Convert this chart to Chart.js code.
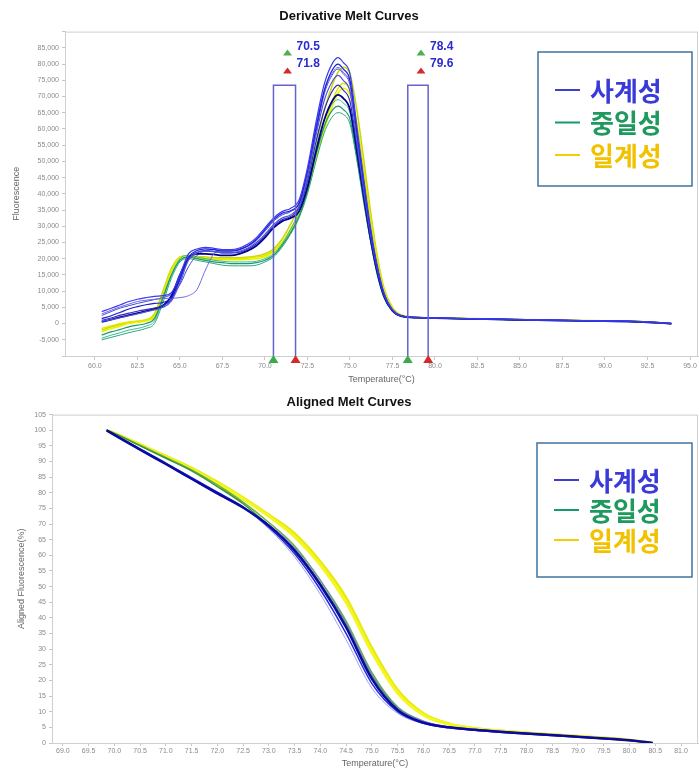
<!DOCTYPE html>
<html>
<head>
<meta charset="utf-8">
<script src="https://cdn.jsdelivr.net/npm/chart.js@4.4.1/dist/chart.umd.min.js"></script>
<style>
  body { margin: 0; background: #fff; }
  #wrapTop { position: absolute; left: 0; top: 0; width: 699px; height: 390px; }
  #wrapBottom { position: absolute; left: 0; top: 390px; width: 699px; height: 380px; }
</style>
</head>
<body>
<div id="wrapTop"><canvas id="chartDerivative"></canvas></div>
<div id="wrapBottom"><canvas id="chartAligned"></canvas></div>
<script>
// groups (legend)
const groupNames = ['사계성', '중일성', '일계성'];
const groupLineColors = ['#3f3fc8', '#149b6c', '#f2d000'];
const groupTextColors = ['#3a3ad8', '#1f9a5e', '#f2c200'];

// ---- Derivative melt curves ----
const derivTicks = [60.0, 62.5, 65.0, 67.5, 70.0, 72.5, 75.0, 77.5, 80.0, 82.5, 85.0, 87.5, 90.0, 92.5, 95.0];
const derivTemps = [
  60.4, 61.0, 61.5, 62.0, 62.5, 63.0, 63.5, 64.0, 64.5, 65.0,
  65.5, 66.0, 66.5, 67.0, 67.5, 68.0, 68.5, 69.0, 69.5, 70.0,
  70.5, 71.0, 71.5, 72.0, 72.5, 73.0, 73.5, 74.0, 74.3, 74.6,
  75.0, 75.4, 75.8, 76.2, 76.6, 77.0, 77.5, 78.0, 79.0, 80.0,
  82.0, 84.0, 86.0, 88.0, 90.0, 92.0, 93.9
];
const derivBlue1 = [
  3700, 4800, 5800, 6800, 7500, 8000, 8400, 8600, 9500, 15000,
  21500, 23000, 23500, 23200, 22800, 22800, 23300, 24500, 26500, 29500,
  32500, 34500, 35500, 38000, 48000, 62000, 74000, 80500, 82000, 80500,
  77000, 61000, 45000, 30000, 18000, 9500, 4300, 2500, 1900, 1750,
  1550, 1350, 1150, 1000, 850, 650, 50
];
const derivBlue2 = [
  1500, 2500, 3500, 4500, 5200, 5800, 6200, 6500, 8000, 14000,
  20500, 22500, 23000, 22800, 22300, 22300, 22800, 24000, 26000, 29000,
  32000, 34000, 34800, 37000, 47000, 60000, 72000, 78500, 80000, 78500,
  75000, 59500, 44000, 29000, 17500, 9200, 4200, 2400, 1850, 1700,
  1500, 1300, 1100, 950, 800, 600, 0
];
const derivBlue3 = [
  600, 1200, 1800, 2400, 3000, 3600, 4200, 5000, 7000, 12500,
  19500, 21800, 22300, 22200, 21800, 21800, 22300, 23300, 25000, 27500,
  30500, 32500, 33500, 36000, 45000, 58000, 69000, 75000, 76500, 75000,
  71500, 57000, 42000, 28000, 17000, 9000, 4100, 2400, 1850, 1700,
  1500, 1300, 1100, 950, 800, 600, 0
];
const derivBlue4 = [
  1000, 1800, 2600, 3200, 3800, 4300, 4800, 5500, 7500, 13500,
  20000, 22000, 22500, 22200, 21800, 21800, 22000, 23000, 24500, 27000,
  30000, 32000, 33000, 35500, 44000, 56000, 66000, 72000, 73500, 72000,
  68500, 55000, 40500, 27000, 16500, 8700, 4000, 2350, 1800, 1650,
  1450, 1250, 1050, 900, 750, 550, 0
];
const derivBlue5 = [
  3000, 4200, 5200, 6000, 6800, 7200, 7500, 7700, 7800, 8000,
  8600, 10500, 16500, 21500, 22500, 22500, 22800, 23800, 25500, 28500,
  31500, 33500, 34500, 37000, 47000, 61000, 72000, 77500, 79000, 77500,
  74000, 59000, 43500, 29000, 17500, 9200, 4200, 2400, 1850, 1700,
  1500, 1300, 1100, 950, 800, 600, 0
];
const derivBlue6 = [
  500, 1300, 2000, 2600, 3200, 3800, 4500, 5500, 8500, 15000,
  20000, 21500, 21500, 21300, 21000, 21000, 21500, 22500, 24000, 26500,
  29500, 31500, 32500, 34500, 42000, 53000, 63000, 69000, 70500, 69500,
  66000, 53500, 39500, 26500, 16000, 8500, 3900, 2300, 1800, 1650,
  1450, 1250, 1050, 900, 750, 550, 0
];
const derivBlue7 = [
  2500, 3800, 4800, 5500, 6200, 6800, 7400, 8000, 9000, 12000,
  17500, 21000, 22500, 22800, 22500, 22500, 23000, 24000, 25800, 28500,
  31500, 33500, 34500, 37000, 46000, 59000, 71000, 77000, 78500, 77000,
  73500, 58500, 43000, 28500, 17200, 9000, 4100, 2400, 1850, 1700,
  1500, 1300, 1100, 950, 800, 600, 0
];
const derivGreen1 = [
  -3500, -2500, -1800, -1000, -500, 0, 1500, 8000, 15000, 19500,
  20500, 20000, 19500, 19000, 18800, 18500, 18500, 18500, 18800, 19500,
  21000, 24000, 28000, 33000, 41000, 52000, 61000, 66000, 67000, 66000,
  63000, 51500, 38500, 26000, 15500, 8200, 3900, 2300, 1800, 1650,
  1450, 1250, 1050, 900, 750, 550, 0
];
const derivGreen2 = [
  -5000, -4200, -3500, -2800, -2200, -1500, 0, 6500, 14000, 19000,
  20000, 19500, 19000, 18500, 18000, 17800, 17800, 17800, 18000, 19000,
  20500, 23500, 27500, 32500, 40000, 50000, 59000, 64000, 65000, 64500,
  61500, 50500, 37500, 25500, 15000, 8000, 3800, 2300, 1800, 1650,
  1450, 1250, 1050, 900, 750, 550, 0
];
const derivGreen3 = [
  -4500, -3500, -2800, -2000, -1500, -800, 800, 7500, 15000, 20000,
  21000, 20500, 20000, 19500, 19200, 19000, 19000, 19000, 19200, 20000,
  21500, 24500, 29000, 34500, 43000, 54000, 63000, 68000, 69000, 68000,
  65000, 53000, 39500, 26500, 15800, 8300, 3900, 2300, 1800, 1650,
  1450, 1250, 1050, 900, 750, 550, 0
];
const derivYellow1 = [
  -1500, -700, 0, 500, 800, 1200, 2500, 9000, 16500, 20500,
  21000, 20500, 20200, 20000, 20000, 20000, 20000, 20200, 20500, 21000,
  22500, 25000, 29000, 34000, 41000, 51000, 61000, 69000, 72500, 74000,
  72000, 62000, 48000, 33000, 20000, 10500, 4700, 2600, 1900, 1700,
  1500, 1300, 1100, 950, 800, 600, 0
];
const derivYellow2 = [
  -2500, -1500, -800, 0, 400, 800, 2000, 8500, 16000, 20000,
  20500, 20000, 19800, 19700, 19700, 19700, 19700, 19800, 20000, 20500,
  22000, 24500, 28500, 33500, 40500, 50500, 60000, 67500, 71000, 72500,
  70500, 61000, 47000, 32000, 19500, 10200, 4600, 2600, 1900, 1700,
  1500, 1300, 1100, 950, 800, 600, 0
];
const derivYellow3 = [
  -2000, -1000, -300, 300, 600, 1000, 3000, 10000, 17000, 20500,
  21000, 20700, 20500, 20300, 20300, 20300, 20300, 20500, 20800, 21500,
  23000, 26000, 30500, 36000, 44000, 55000, 66000, 74000, 77500, 79000,
  77000, 66000, 51000, 35000, 21000, 11000, 5000, 2700, 1950, 1750,
  1550, 1350, 1150, 1000, 850, 650, 0
];
// melt regions (start / end temperature of each bracket)
const regionStarts = [70.5, 78.4];
const regionEnds = [71.8, 79.6];
const regionTop = 73500;

// ---- Aligned melt curves ----
const alignTicks = [69.0, 69.5, 70.0, 70.5, 71.0, 71.5, 72.0, 72.5, 73.0, 73.5, 74.0, 74.5, 75.0, 75.5, 76.0, 76.5, 77.0, 77.5, 78.0, 78.5, 79.0, 79.5, 80.0, 80.5, 81.0];
const alignTemps = [69.85, 70.0, 70.5, 71.0, 71.5, 72.0, 72.5, 73.0, 73.5, 74.0, 74.5, 75.0, 75.5, 76.0, 76.5, 77.0, 78.0, 79.0, 80.0, 80.45];
const alignBlue1 = [100, 98.5, 93.8, 89.2, 84.5, 79.8, 75.3, 69.5, 61.5, 50.5, 37, 20.5, 10.5, 6.5, 5, 4.2, 3, 2, 0.9, 0];
const alignBlue2 = [100, 98.6, 94, 89.5, 84.8, 80.2, 75.5, 69, 60.5, 49, 35, 19, 10, 6.3, 4.9, 4.1, 2.9, 1.9, 0.8, 0];
const alignBlue3 = [100, 98.4, 93.6, 89, 84.3, 79.6, 75, 69.8, 62.5, 52, 38.5, 22, 11.5, 7, 5.2, 4.4, 3.1, 2.1, 0.9, 0];
const alignBlue4 = [100, 98.5, 93.9, 89.3, 84.6, 80, 75.2, 68.5, 59.5, 47.5, 33, 17.5, 9.5, 6.2, 4.8, 4, 2.9, 1.9, 0.8, 0];
const alignGreen1 = [100, 99, 95, 91, 87, 82, 76.5, 69.5, 62, 51, 38, 21.5, 11, 6.8, 5, 4.2, 3, 2, 0.9, 0];
const alignGreen2 = [100, 99, 95.2, 91.3, 87.3, 82.5, 77, 70.5, 63, 52, 39, 22.5, 11.5, 7, 5.1, 4.3, 3.1, 2, 0.9, 0];
const alignYellow1 = [100, 99, 95.3, 91.5, 87.5, 83, 78, 72.5, 66, 57, 45, 29, 16, 9, 6, 4.6, 3.2, 2.1, 0.9, 0];
const alignYellow2 = [100, 99.1, 95.5, 91.8, 88, 83.5, 78.5, 73, 67, 58, 46.5, 30.5, 17, 9.5, 6.2, 4.7, 3.3, 2.2, 1, 0];

// series lists (blues first so they are drawn on top)
const derivSeries = [derivBlue1, derivBlue2, derivBlue3, derivBlue4, derivBlue5, derivBlue6, derivBlue7,
  derivGreen1, derivGreen2, derivGreen3, derivYellow1, derivYellow2, derivYellow3];
const derivGroup = [0, 0, 0, 0, 0, 0, 0, 1, 1, 1, 2, 2, 2];
const derivColors = ['#3b3bf5', '#1c1cd6', '#5252e0', '#2f2fb8', '#6b6bea', '#00008b', '#4a4acf',
  '#1a9a70', '#2aaa80', '#40b890', '#e0e800', '#eef000', '#c8d800'];
const derivWidths = [1.2, 1.2, 1.2, 1.2, 1, 1.8, 1, 1.2, 1, 1, 1.5, 1.5, 1.5];

const alignSeries = [alignBlue1, alignBlue2, alignBlue3, alignBlue4, alignGreen1, alignGreen2, alignYellow1, alignYellow2];
const alignGroup = [0, 0, 0, 0, 1, 1, 2, 2];
const alignColors = ['#0a0aa0', '#2a2ae0', '#7a7af0', '#9aa0f5', '#3a9a3a', '#6ab040', '#f5f520', '#e4ea10'];
const alignWidths = [2.5, 1.5, 1, 1, 1.5, 1.5, 3, 2.5];

Chart.defaults.font.family = '"Liberation Sans", Arial, sans-serif';
Chart.defaults.animation = false;

const plotFrame = {
  id: 'plotFrame',
  beforeDatasetsDraw(chart) {
    const a = chart.chartArea, ctx = chart.ctx;
    ctx.save();
    ctx.strokeStyle = '#cfcfcf';
    ctx.lineWidth = 1;
    ctx.strokeRect(a.left + 0.5, a.top + 0.5, a.right - a.left - 1, a.bottom - a.top);
    ctx.restore();
  }
};

const groupLegend = {
  id: 'groupLegend',
  afterDraw(chart, args, opts) {
    const ctx = chart.ctx;
    ctx.save();
    ctx.fillStyle = '#fff';
    ctx.fillRect(opts.left, opts.top, opts.width, opts.height);
    ctx.strokeStyle = '#3f73a0';
    ctx.lineWidth = 1.5;
    ctx.strokeRect(opts.left, opts.top, opts.width, opts.height);
    ctx.font = 'bold 26px "Noto Sans CJK KR"';
    ctx.textBaseline = 'middle';
    groupNames.forEach((name, i) => {
      const y = opts.firstRow + i * opts.rowGap;
      ctx.strokeStyle = groupLineColors[i];
      ctx.lineWidth = 2;
      ctx.beginPath();
      ctx.moveTo(opts.left + 17, y);
      ctx.lineTo(opts.left + 42, y);
      ctx.stroke();
      ctx.fillStyle = groupTextColors[i];
      ctx.fillText(name, opts.left + 52, y + 1);
    });
    ctx.restore();
  }
};

function triangle(ctx, x, yBase, w, h, fill) {
  ctx.beginPath();
  ctx.moveTo(x - w / 2, yBase);
  ctx.lineTo(x + w / 2, yBase);
  ctx.lineTo(x, yBase - h);
  ctx.closePath();
  ctx.fillStyle = fill;
  ctx.fill();
}

// brackets with start/end markers
const meltRegions = {
  id: 'meltRegions',
  afterDatasetsDraw(chart) {
    const ctx = chart.ctx, xs = chart.scales.x, ys = chart.scales.y, a = chart.chartArea;
    ctx.save();
    regionStarts.forEach((s, i) => {
      const x1 = xs.getPixelForValue(s), x2 = xs.getPixelForValue(regionEnds[i]);
      const yTop = ys.getPixelForValue(regionTop);
      ctx.strokeStyle = '#6464cc';
      ctx.lineWidth = 1.5;
      ctx.beginPath();
      ctx.moveTo(x1, a.bottom);
      ctx.lineTo(x1, yTop);
      ctx.lineTo(x2, yTop);
      ctx.lineTo(x2, a.bottom);
      ctx.stroke();

      triangle(ctx, x1, a.bottom + 7, 10, 8, '#3caa4a');
      triangle(ctx, x2, a.bottom + 7, 10, 8, '#d42a2a');

      const xm = (x1 + x2) / 2 + 3;
      triangle(ctx, xm, a.top + 24, 9, 6, '#4caf50');
      triangle(ctx, xm, a.top + 42, 9, 6, '#d42a2a');
      ctx.font = 'bold 12px "Liberation Sans", Arial, sans-serif';
      ctx.fillStyle = '#2b2bd0';
      ctx.textBaseline = 'middle';
      ctx.fillText(s.toFixed(1), xm + 9, a.top + 15);
      ctx.fillText(regionEnds[i].toFixed(1), xm + 9, a.top + 32);
    });
    ctx.restore();
  }
};

function buildDatasets(temps, series, groups, colors, widths) {
  return series.map((vals, k) => ({
    label: groupNames[groups[k]],
    data: temps.map((t, i) => ({ x: t, y: vals[i] })),
    borderColor: colors[k],
    borderWidth: widths[k],
    pointRadius: 0,
    cubicInterpolationMode: 'monotone',
    fill: false
  }));
}

const tickFont = { size: 7 };
const tickColor = '#8a8a8a';

new Chart(document.getElementById('chartDerivative'), {
  type: 'line',
  data: { datasets: buildDatasets(derivTemps, derivSeries, derivGroup, derivColors, derivWidths) },
  options: {
    responsive: true,
    maintainAspectRatio: false,
    layout: { padding: { right: 1 } },
    plugins: {
      legend: { display: false },
      tooltip: { enabled: false },
      title: {
        display: true,
        text: 'Derivative Melt Curves',
        color: '#111',
        font: { size: 13, weight: 'bold' },
        padding: { top: 9, bottom: 7 }
      },
      groupLegend: { left: 538, top: 52, width: 154, height: 134, firstRow: 90, rowGap: 32.5 }
    },
    scales: {
      x: {
        type: 'linear', min: 58.24, max: 95.47,
        afterBuildTicks: axis => { axis.ticks = derivTicks.map(v => ({ value: v })); },
        afterFit: s => { s.height = 34; },
        ticks: { callback: v => v.toFixed(1), font: tickFont, color: tickColor, maxRotation: 0, autoSkip: false, padding: 2 },
        grid: { drawOnChartArea: false, tickLength: 4, color: '#c8c8c8' },
        border: { color: '#c8c8c8' },
        title: { display: true, text: 'Temperature(°C)', color: '#666', font: { size: 9 }, padding: { top: 0, bottom: 5 } }
      },
      y: {
        min: -10000, max: 90000,
        afterFit: s => { s.width = 65; },
        ticks: {
          stepSize: 5000,
          callback: v => (v <= -10000 || v >= 90000) ? '' : v.toLocaleString('en-US'),
          font: tickFont, color: tickColor, padding: 3
        },
        grid: { drawOnChartArea: false, tickLength: 3, color: '#c8c8c8' },
        border: { color: '#c8c8c8' },
        title: { display: true, text: 'Fluorescence', color: '#666', font: { size: 9 }, padding: { top: 11, bottom: 0 } }
      }
    }
  },
  plugins: [plotFrame, meltRegions, groupLegend]
});

new Chart(document.getElementById('chartAligned'), {
  type: 'line',
  data: { datasets: buildDatasets(alignTemps, alignSeries, alignGroup, alignColors, alignWidths) },
  options: {
    responsive: true,
    maintainAspectRatio: false,
    layout: { padding: { right: 1 } },
    plugins: {
      legend: { display: false },
      tooltip: { enabled: false },
      title: {
        display: true,
        text: 'Aligned Melt Curves',
        color: '#111',
        font: { size: 13, weight: 'bold' },
        padding: { top: 5, bottom: 4 }
      },
      groupLegend: { left: 537, top: 53, width: 155, height: 134, firstRow: 90, rowGap: 30 }
    },
    scales: {
      x: {
        type: 'linear', min: 68.79, max: 81.33,
        afterBuildTicks: axis => { axis.ticks = alignTicks.map(v => ({ value: v })); },
        afterFit: s => { s.height = 27; },
        ticks: { callback: v => v.toFixed(1), font: tickFont, color: tickColor, maxRotation: 0, autoSkip: false, padding: 1 },
        grid: { drawOnChartArea: false, tickLength: 3, color: '#c8c8c8' },
        border: { color: '#c8c8c8' },
        title: { display: true, text: 'Temperature(°C)', color: '#666', font: { size: 9 }, padding: { top: 0, bottom: 1 } }
      },
      y: {
        min: 0, max: 105,
        afterFit: s => { s.width = 52; },
        ticks: { stepSize: 5, font: tickFont, color: tickColor, padding: 3 },
        grid: { drawOnChartArea: false, tickLength: 3, color: '#c8c8c8' },
        border: { color: '#c8c8c8' },
        title: { display: true, text: 'Aligned Fluorescence(%)', color: '#666', font: { size: 9 }, padding: { top: 16, bottom: 0 } }
      }
    }
  },
  plugins: [plotFrame, groupLegend]
});
</script>
</body>
</html>
